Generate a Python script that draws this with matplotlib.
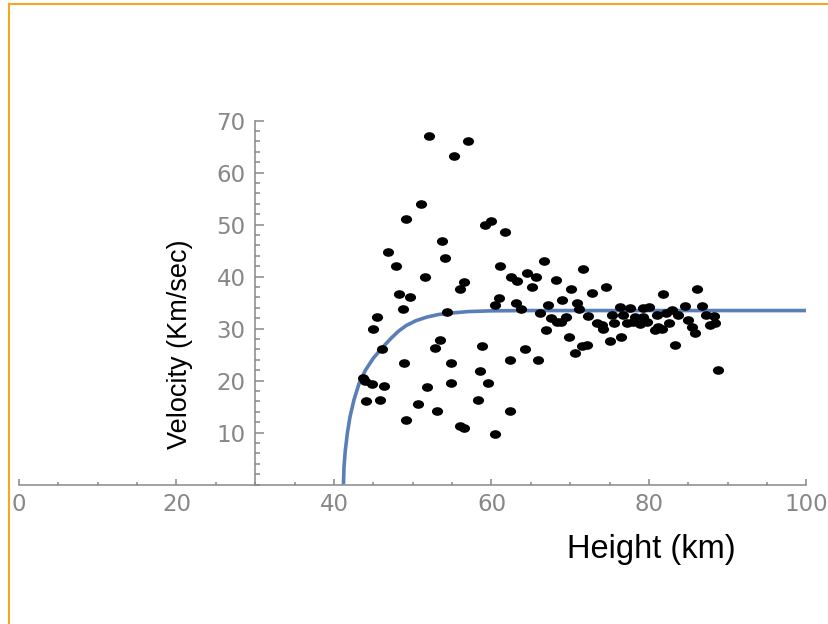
import matplotlib
matplotlib.use("Agg")
import matplotlib.pyplot as plt
from matplotlib.path import Path
from matplotlib.lines import Line2D
from matplotlib.ticker import MultipleLocator, FixedLocator

# ---- data ----
heights = [
    52.1, 57.0, 55.2, 51.0, 49.2, 59.2, 59.9, 61.7, 53.7, 54.1,
    46.9, 47.9, 61.1, 66.7, 71.6, 51.6, 56.5, 56.0, 62.5, 63.3,
    64.5, 65.6, 65.1, 68.2, 70.1, 72.8, 74.5, 81.8, 86.1, 48.2,
    49.7, 61.0, 60.4, 48.7, 54.4, 63.1, 63.8, 69.0, 67.2, 70.8,
    71.1, 66.2, 72.3, 45.5, 45.0, 66.9, 67.6, 68.3, 68.8, 69.5,
    73.4, 74.0, 74.2, 75.5, 75.3, 76.3, 77.6, 76.7, 77.2, 78.2,
    78.0, 79.3, 80.0, 79.3, 78.9, 79.7, 81.0, 80.8, 81.2, 81.6,
    82.2, 82.6, 82.9, 83.7, 84.6, 85.0, 85.4, 85.8, 86.7, 87.3,
    88.2, 87.7, 88.4, 88.7, 83.3, 69.8, 70.6, 71.5, 72.1, 75.0,
    76.5, 64.3, 65.9, 62.3, 58.8, 52.8, 53.4, 46.1, 48.9, 54.9,
    58.5, 43.7, 43.9, 44.8, 46.3, 51.8, 54.9, 59.6, 44.1, 45.8,
    58.3, 50.7, 53.1, 62.4, 49.1, 56.0, 56.5, 60.4,
]
velocities = [
    67.0, 66.0, 63.1, 54.0, 51.0, 49.9, 50.7, 48.5, 46.8, 43.5,
    44.7, 42.1, 42.1, 43.0, 41.5, 40.0, 39.0, 37.6, 40.0, 39.1,
    40.7, 39.9, 37.9, 39.3, 37.6, 36.9, 37.9, 36.7, 37.6, 36.7,
    36.1, 35.8, 34.6, 33.8, 33.1, 35.0, 33.8, 35.5, 34.6, 35.0,
    33.7, 32.9, 32.5, 32.3, 29.9, 29.8, 32.0, 31.3, 31.2, 32.2,
    31.1, 30.7, 30.0, 31.0, 32.6, 34.2, 33.9, 32.6, 31.0, 32.2,
    31.3, 33.9, 34.2, 32.3, 30.9, 31.3, 32.6, 29.7, 30.3, 30.0,
    32.9, 31.0, 33.6, 32.6, 34.3, 31.6, 30.3, 29.2, 34.3, 32.6,
    32.4, 30.7, 31.0, 22.0, 26.9, 28.4, 25.2, 26.6, 26.8, 27.6,
    28.4, 26.1, 24.0, 24.0, 26.6, 26.3, 27.8, 26.0, 23.4, 23.4,
    21.9, 20.4, 19.9, 19.3, 19.0, 18.7, 19.6, 19.6, 16.0, 16.3,
    16.2, 15.4, 14.2, 14.2, 12.5, 11.2, 10.9, 9.8,
]
curve_h = [41.2, 41.27, 41.44, 41.7, 42.03, 42.54, 43.2, 44.0, 45.0, 46.06,
           47.3, 48.2, 49.2, 50.4, 51.8, 53.3, 55.1, 57.0, 60.0, 65.0,
           70.0, 100.0]
curve_v = [0.0, 3.4, 6.6, 9.9, 13.0, 16.3, 19.5, 22.0, 24.3, 26.2,
           28.2, 29.5, 30.6, 31.5, 32.2, 32.7, 33.0, 33.25, 33.4, 33.45,
           33.45, 33.45]

x_ticks = [0, 20, 40, 60, 80, 100]
y_ticks = [10, 20, 30, 40, 50, 60, 70]
x_label = "Height (km)"
y_label = "Velocity (Km/sec)"

# ---- figure ----
W, H = 829, 624
fig = plt.figure(figsize=(W / 100, H / 100), dpi=100)
fig.patch.set_facecolor("white")

ax = fig.add_axes([19 / W, 139.5 / H, 787.5 / W, 364 / H])
ax.set_xlim(0, 100)
ax.set_ylim(0, 70)
ax.patch.set_alpha(0)

axis_col = "#888888"
lab_col = "#878787"
for s in ("top", "right"):
    ax.spines[s].set_visible(False)
ax.spines["left"].set_position(("data", 30))
ax.spines["bottom"].set_position(("data", 0))
ax.spines["left"].set_bounds(0, 70)
for s in ("left", "bottom"):
    ax.spines[s].set_color(axis_col)
    ax.spines[s].set_linewidth(1.1)

ax.xaxis.set_major_locator(FixedLocator(x_ticks))
ax.xaxis.set_minor_locator(MultipleLocator(5))
ax.yaxis.set_major_locator(FixedLocator(y_ticks))
ax.yaxis.set_minor_locator(MultipleLocator(2))
ax.set_xticklabels([str(t) for t in x_ticks])
ax.set_yticklabels([str(t) for t in y_ticks])

ax.tick_params(axis="x", which="major", direction="in", length=4, width=1.1,
               color=axis_col, pad=6, labelsize=16.5, labelcolor=lab_col)
ax.tick_params(axis="x", which="minor", direction="in", length=2.5, width=1.1,
               color=axis_col)
ax.tick_params(axis="y", which="major", direction="in", length=6.5, width=1.1,
               color=axis_col, pad=7, labelsize=16.5, labelcolor=lab_col)
ax.tick_params(axis="y", which="minor", direction="in", length=3.8, width=1.1,
               color=axis_col)
for lbl in ax.get_xticklabels() + ax.get_yticklabels():
    lbl.set_fontfamily("DejaVu Sans")

# fitted curve
ax.plot(curve_h, curve_v, color="#5a7fb8", lw=2.6, solid_joinstyle="round",
        solid_capstyle="butt", zorder=2)

# elliptical dots (reference is horizontally stretched)
circ = Path.unit_circle()
ell = Path(circ.vertices * [1.35, 1.0], circ.codes)
ax.plot(heights, velocities, linestyle="none", marker=ell, markersize=7.0,
        color="black", zorder=3, clip_on=False)

# axis labels (placed as in reference)
fig.text(651 / W, 1 - 558.3 / H, x_label, ha="center", va="baseline",
         fontsize=23.5, family="Liberation Sans", color="black")
fig.text(180 / W, 1 - 344 / H, y_label, ha="center", va="center",
         rotation=90, fontsize=19.5, family="Liberation Sans", color="black")

# orange frame
oc = "#f5a623"
fig.add_artist(Line2D([9.5 / W, 9.5 / W], [0, 1 - 4 / H], transform=fig.transFigure,
                      color=oc, lw=1.5))
fig.add_artist(Line2D([9.5 / W, 1], [1 - 4 / H, 1 - 4 / H], transform=fig.transFigure,
                      color=oc, lw=1.5))

fig.savefig("out.png", dpi=100)
